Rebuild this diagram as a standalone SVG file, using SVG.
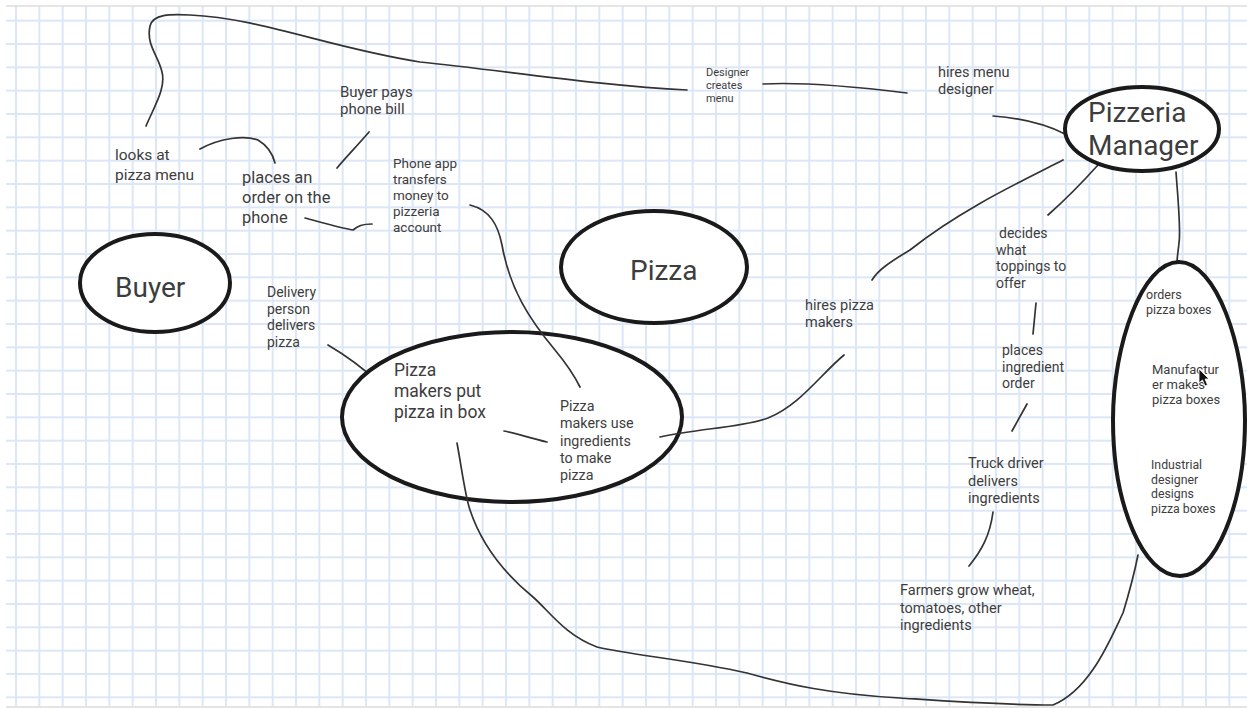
<svg xmlns="http://www.w3.org/2000/svg" width="1247" height="709" viewBox="0 0 1247 709">
<style>
  .big{fill:#fff;stroke:#1a1a1a;stroke-width:4}
  .c{fill:none;stroke:#333;stroke-width:1.7;stroke-linecap:round;stroke-linejoin:round}
  text{font-family:Roboto,"Liberation Sans",sans-serif;fill:#3d3d3d}
  .t28{font-size:28px}
</style>
<defs>
  <pattern id="grid" patternUnits="userSpaceOnUse" x="4.333" y="9" width="23.333" height="23.333">
    <path d="M11.667,0 V23.333 M0,11.667 H23.333" stroke="#dbe6f7" stroke-width="1.9" fill="none"/>
  </pattern>
</defs>
<rect width="1247" height="709" fill="#fff"/>
<rect x="6" y="6" width="1241" height="701" fill="url(#grid)"/>
<line x1="6" y1="6" x2="1247" y2="6" stroke="#dcdcdc" stroke-width="1.5"/>
<line x1="6" y1="707" x2="1247" y2="707" stroke="#e4e4e4" stroke-width="2"/>

<g id="connectors">
  <path class="c" d="M146,126 C155,105 166,88 162,72 C158,55 146,45 150,26 C153,14 170,14 190,15 C260,18 330,48 420,62 C500,70 600,86 687,90"/>
  <path class="c" d="M763,84 C800,82 850,86 907,93"/>
  <path class="c" d="M993,116 C1020,118 1045,124 1065,134"/>
  <path class="c" d="M1063,160 C1020,182 960,210 910,250 C890,262 878,270 872,280"/>
  <path class="c" d="M1098,165 C1080,185 1065,200 1048,215"/>
  <path class="c" d="M1176,172 C1178,200 1181,230 1179,243 C1178,252 1177,258 1177,263"/>
  <path class="c" d="M1036,303 C1035,313 1034,324 1033,334"/>
  <path class="c" d="M1027,404 L1012,431"/>
  <path class="c" d="M993,512 C990,535 982,550 969,566"/>
  <path class="c" d="M1174,323 L1175,335"/>
  <path class="c" d="M1177,425 L1177,452"/>
  <path class="c" d="M328,345 C345,355 365,370 378,382"/>
  <path class="c" d="M200,149 C220,138 245,135 258,140 C268,146 273,155 275,163"/>
  <path class="c" d="M337,168 C345,158 358,145 369,132"/>
  <path class="c" d="M305,218 C320,222 340,228 353,230 C358,226 362,224 372,224"/>
</g>

<g id="buyer">
  <ellipse class="big" cx="155" cy="283" rx="75" ry="49"/>
  <text class="t28" x="115" y="297">Buyer</text>
</g>
<g id="pizza">
  <ellipse class="big" cx="654" cy="267" rx="93" ry="56"/>
  <text class="t28" x="630" y="280">Pizza</text>
</g>
<g id="pizzeria-manager">
  <ellipse class="big" cx="1142" cy="129" rx="77" ry="42"/>
  <text class="t28" x="1088" y="122">Pizzeria</text>
  <text class="t28" x="1088" y="155">Manager</text>
</g>
<g id="pizza-makers">
  <ellipse class="big" cx="512" cy="417" rx="170" ry="85"/>
  <text style="font-size:17.5px" x="394" y="376">Pizza<tspan x="394" dy="21">makers put</tspan><tspan x="394" dy="21">pizza in box</tspan></text>
  <text style="font-size:14.3px" x="560" y="411">Pizza<tspan x="560" dy="17.3">makers use</tspan><tspan x="560" dy="17.3">ingredients</tspan><tspan x="560" dy="17.3">to make</tspan><tspan x="560" dy="17.3">pizza</tspan></text>
</g>
<g id="box-supply">
  <path class="big" d="M1179,262 C1216,262 1245,345 1245,420 C1245,505 1215,576 1180,576 C1143,576 1113,505 1113,420 C1113,345 1142,262 1179,262 Z"/>
  <text style="font-size:12.5px" x="1146" y="299">orders<tspan x="1146" dy="15">pizza boxes</tspan></text>
  <text style="font-size:13px" x="1152" y="374">Manufactur<tspan x="1152" dy="15">er makes</tspan><tspan x="1152" dy="15">pizza boxes</tspan></text>
  <text style="font-size:12.3px" x="1151" y="469">Industrial<tspan x="1151" dy="14.7">designer</tspan><tspan x="1151" dy="14.7">designs</tspan><tspan x="1151" dy="14.7">pizza boxes</tspan></text>
  <path d="M1199,369 L1199,383 L1202.5,380 L1205,386 L1207.5,385 L1205,379 L1209,379 Z" fill="#111" stroke="#fff" stroke-width="0.8"/>
</g>

<g id="connectors-over">
  <path class="c" d="M660,437 C700,428 740,428 768,418 C800,405 820,375 844,355"/>
  <path class="c" d="M470,205 C490,210 498,225 502,245 C510,290 530,320 555,350 C565,362 574,375 580,387"/>
  <path class="c" d="M504,431 C515,433 530,438 547,442"/>
  <path class="c" d="M457,443 C462,470 465,495 470,510 C480,540 500,570 533,597 C550,612 565,635 597,647 C630,655 690,660 747,673 C790,685 830,694 900,698 C960,702 1000,705 1053,705 C1090,690 1110,640 1123,613 C1130,590 1135,570 1138,555"/>
</g>

<g id="labels">
  <text style="font-size:15.5px" x="115" y="160">looks at<tspan x="115" dy="20">pizza menu</tspan></text>
  <text style="font-size:16.5px" x="242" y="183">places an<tspan x="242" dy="20">order on the</tspan><tspan x="242" dy="20">phone</tspan></text>
  <text style="font-size:15px" x="340" y="97">Buyer pays<tspan x="340" dy="17">phone bill</tspan></text>
  <text style="font-size:13.5px" x="393" y="168">Phone app<tspan x="393" dy="16">transfers</tspan><tspan x="393" dy="16">money to</tspan><tspan x="393" dy="16">pizzeria</tspan><tspan x="393" dy="16">account</tspan></text>
  <text style="font-size:11px" x="706" y="76">Designer<tspan x="706" dy="13">creates</tspan><tspan x="706" dy="13">menu</tspan></text>
  <text style="font-size:14.5px" x="938" y="77">hires menu<tspan x="938" dy="16.5">designer</tspan></text>
  <text style="font-size:14px" x="999" y="238">decides<tspan x="996" dy="16.7">what</tspan><tspan x="996" dy="16.7">toppings to</tspan><tspan x="996" dy="16.7">offer</tspan></text>
  <text style="font-size:14.5px" x="805" y="310">hires pizza<tspan x="805" dy="17">makers</tspan></text>
  <text style="font-size:14px" x="1002" y="355">places<tspan x="1002" dy="16.5">ingredient</tspan><tspan x="1002" dy="16.5">order</tspan></text>
  <text style="font-size:14.5px" x="968" y="468">Truck driver<tspan x="968" dy="17.5">delivers</tspan><tspan x="968" dy="17.5">ingredients</tspan></text>
  <text style="font-size:14.5px" x="900" y="595">Farmers grow wheat,<tspan x="900" dy="17.5">tomatoes, other</tspan><tspan x="900" dy="17.5">ingredients</tspan></text>
  <text style="font-size:14px" x="267" y="297">Delivery<tspan x="267" dy="16.5">person</tspan><tspan x="267" dy="16.5">delivers</tspan><tspan x="267" dy="16.5">pizza</tspan></text>
</g>
</svg>
